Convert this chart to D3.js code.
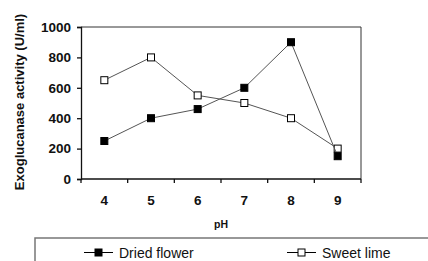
<!DOCTYPE html>
<html>
<head>
  <meta charset="utf-8">
  <script src="https://d3js.org/d3.v7.min.js"></script>
  <style>
    body { margin: 0; background: #fff; }
    svg { display: block; font-family: 'Liberation Sans', Arial, sans-serif; }
  </style>
</head>
<body>
<script>
  // data
  var phLevels = ["4", "5", "6", "7", "8", "9"];
  var driedFlower = [250, 400, 460, 600, 900, 150];
  var sweetLime = [650, 800, 550, 500, 400, 200];
  var yTicks = [0, 200, 400, 600, 800, 1000];

  var W = 428, H = 261;
  var plot = {left: 81, top: 27, right: 361, bottom: 179};

  var svg = d3.select("body").append("svg")
      .attr("width", W)
      .attr("height", H);

  var x = d3.scaleBand().domain(phLevels).range([plot.left, plot.right]);
  var y = d3.scaleLinear().domain([0, 1000]).range([plot.bottom, plot.top]);

  // frame (top + right)
  svg.append("path")
    .attr("d", "M" + plot.left + "," + plot.top + "H" + plot.right + "V" + plot.bottom)
    .attr("fill", "none")
    .attr("stroke", "#333")
    .attr("stroke-width", 1);

  // y axis
  var yAxis = svg.append("g")
      .attr("transform", "translate(" + plot.left + ",0)")
      .call(d3.axisLeft(y).tickValues(yTicks).tickFormat(d3.format("d")).tickSize(4).tickPadding(6));
  yAxis.select(".domain").attr("stroke", "#111").attr("stroke-width", 1.3);
  yAxis.selectAll(".tick line").attr("stroke", "#111").attr("stroke-width", 1.3);
  yAxis.selectAll("text")
    .attr("font-size", "13.5px")
    .attr("font-weight", "bold")
    .attr("fill", "#111");

  // x axis, ticks on band edges
  var xAxis = svg.append("g")
      .attr("transform", "translate(0," + plot.bottom + ")");
  xAxis.append("line")
    .attr("x1", plot.left).attr("x2", plot.right)
    .attr("stroke", "#111").attr("stroke-width", 1.3);
  var edges = phLevels.map(function(d) { return x(d); }).concat([plot.right]);
  xAxis.selectAll(".edge").data(edges).enter().append("line")
    .attr("x1", function(d) { return d; })
    .attr("x2", function(d) { return d; })
    .attr("y1", 0).attr("y2", 4)
    .attr("stroke", "#111").attr("stroke-width", 1.3);
  xAxis.selectAll(".lbl").data(phLevels).enter().append("text")
    .attr("x", function(d) { return x(d) + x.bandwidth() / 2; })
    .attr("y", 26)
    .attr("text-anchor", "middle")
    .attr("font-size", "13.5px")
    .attr("font-weight", "bold")
    .attr("fill", "#111")
    .text(function(d) { return d; });

  // axis titles
  svg.append("text")
    .attr("transform", "translate(24,102) rotate(-90)")
    .attr("text-anchor", "middle")
    .attr("font-size", "13px")
    .attr("font-weight", "bold")
    .attr("fill", "#111")
    .text("Exoglucanase activity (U/ml)");
  svg.append("text")
    .attr("x", 221).attr("y", 228)
    .attr("text-anchor", "middle")
    .attr("font-size", "10.5px")
    .attr("font-weight", "bold")
    .attr("fill", "#111")
    .text("pH");

  var cx = function(d, i) { return x(phLevels[i]) + x.bandwidth() / 2; };
  var line = d3.line()
      .x(function(d, i) { return cx(d, i); })
      .y(function(d) { return y(d); });

  function drawSeries(values, fill) {
    svg.append("path")
      .datum(values)
      .attr("d", line)
      .attr("fill", "none")
      .attr("stroke", "#555")
      .attr("stroke-width", 1);
    svg.selectAll(null).data(values).enter().append("rect")
      .attr("x", function(d, i) { return cx(d, i) - 3.5; })
      .attr("y", function(d) { return y(d) - 3.5; })
      .attr("width", 7).attr("height", 7)
      .attr("fill", fill)
      .attr("stroke", "#000")
      .attr("stroke-width", 1);
  }
  drawSeries(sweetLime, "#fff");
  drawSeries(driedFlower, "#000");

  // legend box
  svg.append("path")
    .attr("d", "M35," + H + "V238H" + W)
    .attr("fill", "none")
    .attr("stroke", "#777")
    .attr("stroke-width", 1.5);

  var legendItems = [
    {name: "Dried flower", fill: "#000", x0: 84},
    {name: "Sweet lime", fill: "#fff", x0: 287}
  ];
  var lg = svg.selectAll(".lg").data(legendItems).enter().append("g")
      .attr("transform", function(d) { return "translate(" + d.x0 + ",252.5)"; });
  lg.append("line")
    .attr("x1", 0).attr("x2", 29)
    .attr("stroke", "#000").attr("stroke-width", 1);
  lg.append("rect")
    .attr("x", 11).attr("y", -3.5)
    .attr("width", 7).attr("height", 7)
    .attr("fill", function(d) { return d.fill; })
    .attr("stroke", "#000");
  lg.append("text")
    .attr("x", 35).attr("y", 5)
    .attr("font-size", "14px")
    .attr("fill", "#111")
    .text(function(d) { return d.name; });
</script>
</body>
</html>
